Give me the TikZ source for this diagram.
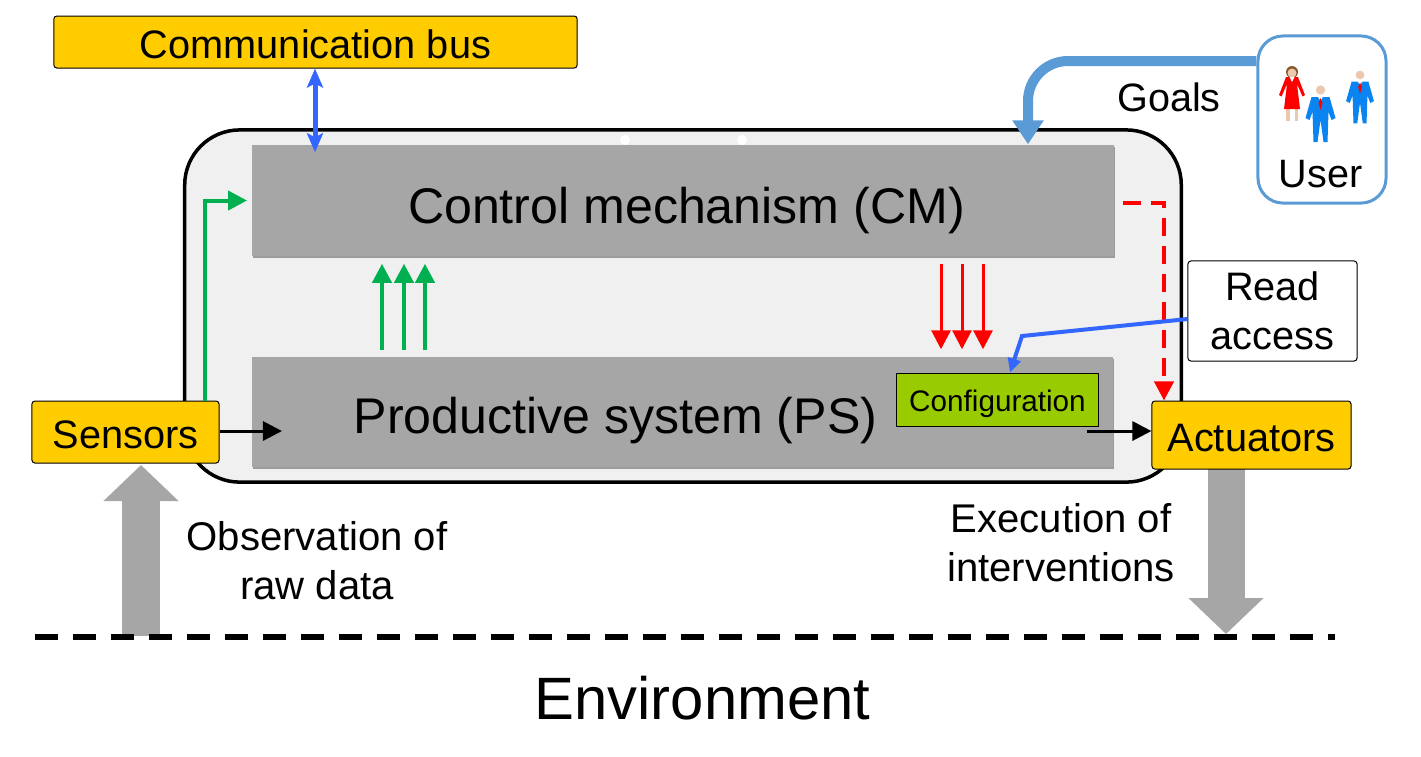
\documentclass[tikz,border=0pt]{standalone}
\usepackage{fontspec}
\setmainfont{Liberation Sans}
\usetikzlibrary{arrows.meta,shadows}
\definecolor{busyellow}{HTML}{FFCC00}
\definecolor{blockgray}{HTML}{A6A6A6}
\definecolor{framegray}{HTML}{F0F0F0}
\definecolor{confgreen}{HTML}{99CC00}
\definecolor{userblue}{HTML}{5B9BD5}
\definecolor{linkblue}{HTML}{3366FF}
\definecolor{obsgreen}{HTML}{00B050}
\definecolor{manblue}{HTML}{0A84F0}
\definecolor{skin}{HTML}{EBC8AE}
\tikzset{
  yellowbox/.style={draw=black,line width=0.01cm,fill=busyellow,rounded corners=0.03cm,inner sep=0pt,text height=0.32cm,text depth=0cm,font=\fontsize{11.3}{14}\selectfont},
  block/.style={fill=blockgray,inner sep=0pt,drop shadow={shadow xshift=0.01cm,shadow yshift=-0.02cm,opacity=.35,fill=black}},
  blocktext/.style={inner sep=0pt,font=\fontsize{14.25}{17}\selectfont},
  plaintext/.style={align=center,inner sep=0pt,font=\fontsize{11.4}{13.9}\selectfont},
  greenarrow/.style={obsgreen,line width=0.04cm,-{Triangle[length=0.19cm,width=0.19cm]}},
  redarrow/.style={red,line width=0.03cm,-{Triangle[length=0.19cm,width=0.19cm]}},
  blackarrow/.style={black,line width=0.03cm,-{Triangle[length=0.19cm,width=0.19cm]}},
  linkarrow/.style={linkblue,line width=0.04cm,-{Triangle[length=0.14cm,width=0.13cm]}},
  bigarrow/.style={blockgray,line width=0.37cm,-{Triangle[length=0.36cm,width=0.73cm]}},
  pics/manicon/.style={code={
    \fill[skin] (0,0) circle (4.7);
    \fill[manblue] (-9,7) -- (9,7) -- (15,28) -- (11,30) -- (8,22) -- (7,52) -- (3,52) -- (0,30) -- (-3,52) -- (-7,52) -- (-8,22) -- (-11,30) -- (-15,28) -- cycle;
    \fill[white] (-3,6) -- (3,6) -- (0,11) -- cycle;
    \fill[red] (0,8) -- (2,13) -- (0,20) -- (-2,13) -- cycle;
  }},
  pics/womanicon/.style={code={
    \fill[skin] (-6,36) rectangle (-2.5,49);
    \fill[skin] (2.5,36) rectangle (6,49);
    \fill[brown!70!black] (0,0) circle (6);
    \fill[skin] (0,1) circle (4.5);
    \fill[red] (-6,5) -- (6,5) -- (13,23) -- (10.5,24.5) -- (5,12) -- (8,37) -- (-8,37) -- (-5,12) -- (-10.5,24.5) -- (-13,23) -- cycle;
    \fill[white] (-2.5,5) -- (2.5,5) -- (0,10) -- cycle;
  }}
}
\begin{document}
\begin{tikzpicture}[x=0.01cm,y=-0.01cm]
	\useasboundingbox (0,0) rectangle (1421,756);

	% Environment line and big arrows
	\coordinate (envleft) at (35,636.5);
	\coordinate (envright) at (1335,636.5);
	\coordinate (obsfoot) at (141,636);
	\coordinate (execfoot) at (1226,634);

	% Frame and blocks
	\node[draw=black,line width=0.035cm,fill=framegray,rounded corners=0.55cm,minimum width=9.96cm,minimum height=3.52cm,inner sep=0pt] (frame) at (683,306) {};
	\node[fill=white,circle,inner sep=0pt,minimum size=0.1cm] (dotleft) at (625,140) {};
	\node[fill=white,circle,inner sep=0pt,minimum size=0.1cm] (dotright) at (742,140) {};
	\node[block,minimum width=8.62cm,minimum height=1.11cm] (CM) at (683,200.5) {};
	\node[block,minimum width=8.61cm,minimum height=1.10cm] (PS) at (682.5,412) {};
	\node[blocktext] (CMtext) at (686.5,211) {Control mechanism (CM)};
	\node[blocktext] (PStext) at (615.5,421) {Productive system (PS)};
	\node[draw=black,line width=0.01cm,fill=confgreen,minimum width=2.01cm,minimum height=0.53cm,inner sep=0pt,text height=0.3cm,text depth=0.06cm,font=\fontsize{8.44}{10}\selectfont] (config) at (997.5,399.5) {Configuration};

	\draw[bigarrow] (obsfoot) -- (141,465); % up to sensors
	\draw[bigarrow] (1226,469) -- (execfoot); % down from actuators
	\draw[black,line width=0.06cm,dash pattern=on 0.23cm off 0.15cm] (envleft) -- (envright);

	% Outer boxes
	\node[yellowbox,minimum width=5.23cm,minimum height=0.52cm] (bus) at (315.5,42) {Communication bus};
	\node[yellowbox,minimum width=1.87cm,minimum height=0.62cm] (sensors) at (125.5,432) {Sensors};
	\node[yellowbox,minimum width=1.99cm,minimum height=0.68cm] (actuators) at (1251.5,435) {Actuators};
	\node[draw=black,line width=0.01cm,fill=white,rounded corners=0.03cm,minimum width=1.69cm,minimum height=1cm,inner sep=0pt,align=center,font=\fontsize{11.3}{13.9}\selectfont] (readacc) at (1272.5,311) {Read\\access};
	\node[draw=userblue,line width=0.03cm,fill=white,rounded corners=0.25cm,minimum width=1.28cm,minimum height=1.67cm,inner sep=0pt] (user) at (1322,119.5) {};

	% People
	\pic (womanA) at (1292,72) {womanicon};
	\pic (manA) at (1320.5,90) {manicon};
	\pic[scale=.93] (manB) at (1360,75) {manicon};

	% Texts
	\node[plaintext,font=\fontsize{11.26}{13.9}\selectfont] (usertext) at (1320.5,174) {User};
	\node[plaintext,font=\fontsize{11.26}{13.9}\selectfont] (goals) at (1169,97) {Goals};
	\node[plaintext] (obs) at (317,561) {Observation of\\raw data};
	\node[plaintext] (exec) at (1061,543) {Execution of\\interventions};
	\node[inner sep=0pt,font=\fontsize{17}{20}\selectfont] (environment) at (702.5,698) {Environment};

	% Arrows between blocks
	\draw[linkblue,line width=0.05cm,{Stealth[length=0.19cm,width=0.16cm,inset=0.04cm]}-{Stealth[length=0.19cm,width=0.16cm,inset=0.04cm]}] (bus.south -| 315,0) -- ([yshift=-0.08cm]CM.north -| 315,0);
	\draw[userblue,line width=0.1cm,rounded corners=0.4cm,-{Triangle[length=0.24cm,width=0.3cm]}] (user.west |- 0,61) -- (1028,61) -- (CM.north -| 1028,0);
	\draw[greenarrow] (sensors.north -| 205,0) |- ([xshift=-0.04cm]CM.west);
	\foreach \x in {382,404,425} {
		\draw[greenarrow,shorten <=0.06cm,shorten >=0.07cm] (PS.north -| \x,0) -- (CM.south -| \x,0);
	}
	\foreach \x in {941,962,983} {
		\draw[redarrow,shorten <=0.07cm,shorten >=0.07cm] (CM.south -| \x,0) -- (PS.north -| \x,0);
	}
	\draw[red,line width=0.04cm,dash pattern=on 0.18cm off 0.1cm,-{Triangle[length=0.19cm,width=0.19cm]}] ([shift={(0.08cm,-0.025cm)}]CM.east) -| (actuators.north -| 1164,0); % dashed path
	\draw[linkarrow] ([yshift=-0.08cm]readacc.west) -- (1022,336) -- (config.north -| 1010,0);
	\draw[blackarrow] (sensors.east |- 0,431) -- (282,431);
	\draw[blackarrow] (1087,431) -- (actuators.west |- 0,431);
\end{tikzpicture}
\end{document}
